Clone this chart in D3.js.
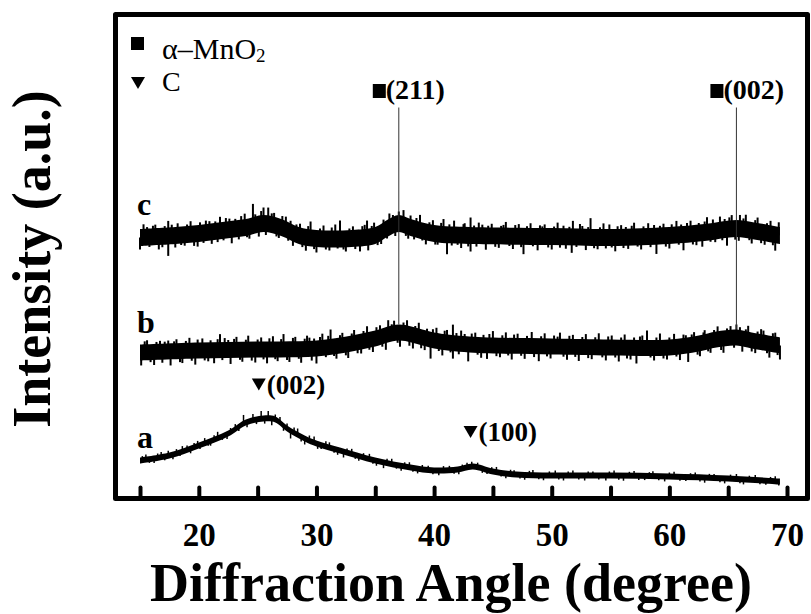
<!DOCTYPE html>
<html>
<head>
<meta charset="utf-8">
<script src="https://cdn.jsdelivr.net/npm/d3@7"></script>
<style>
  body { margin: 0; background: #fff; }
  svg { display: block; }
  text { font-family: "Liberation Serif", "Times New Roman", serif; fill: #000; }
</style>
</head>
<body>
<svg id="chart"></svg>
<script>
// XRD patterns. intensity is arbitrary units (a.u.)
let aAngle = [15, 17.5, 20, 22.5, 24, 25.5, 26.5, 27.5, 29, 30, 32, 35, 38, 40, 42, 43.3, 45, 47, 50, 55, 60, 65, 69.4];
let aValue = [38, 43, 53, 65, 76, 80, 79, 70, 60, 55, 48, 38, 31, 28, 29, 32, 27, 24, 23, 23, 22, 20, 17];

let bAngle = [15, 20, 25, 30, 33, 35, 37, 39, 40, 43, 50, 55, 60, 62.5, 64, 65.7, 67, 69.4];
let bValue = [146, 148, 149, 150, 155, 160, 166, 161, 158, 154, 152, 151, 151, 155, 159, 161, 158, 153];

let cAngle = [15, 18, 20, 22, 24, 25.5, 27, 28.5, 30, 33, 35, 36, 37, 38, 40, 43, 50, 55, 60, 63, 65.7, 67, 69.4];
let cValue = [261, 263, 265, 268, 271, 275, 271, 263, 260, 260, 263, 270, 275, 271, 265, 263, 262, 261, 263, 266, 270, 268, 263];

// half width of the dense noise core of each pattern (a.u.)
let noiseAmp = {a: 3, b: 8, c: 8.5};

// noise spikes sticking out of the core: [angle, offset from the band centre]
let aSpikes = [[15.2, 4], [15.5, 5], [15.8, -4], [16.2, -5], [16.5, 4], [16.8, 5], [17.1, -4], [17.4, 5], [17.8, -5],
  [18.1, 4], [18.4, -4], [18.6, 5], [19.0, 4], [19.3, -5], [19.6, 4], [19.9, 5], [20.1, -4], [20.5, 5], [20.8, -4],
  [21.0, -5], [21.3, 4], [21.6, 6], [22.0, -4], [22.4, -5], [22.7, 4], [23.1, 5], [23.4, -4], [23.8, 9], [24.1, -5],
  [24.6, 7], [24.9, -4], [25.3, 8], [25.6, -5], [25.9, 8], [26.2, -6], [26.5, 5], [26.9, 6], [27.2, -5], [27.5, 5],
  [27.8, -8], [28.1, 5], [28.4, 6], [28.7, -5], [29.0, -6], [29.4, 5], [29.8, 6], [30.1, -5], [30.4, -4], [30.8, 5],
  [31.1, 5], [31.5, -4], [31.8, -5], [32.3, -6], [32.6, 4], [33.0, 5], [33.3, -4], [33.6, -5], [34.0, 4], [34.5, 5],
  [34.8, -4], [35.1, -5], [35.7, -6], [36.0, 4], [36.4, 5], [36.8, -4], [37.2, -5], [37.5, 4], [37.9, 5], [38.2, -4],
  [38.6, -5], [39.0, 4], [39.5, 4], [39.9, -4], [40.4, -5], [40.8, 4], [41.3, 4], [41.7, -4], [42.1, -5], [42.4, 4],
  [42.8, 5], [43.2, 5], [43.7, 5], [44.1, -4], [44.5, -4], [44.9, 4], [45.3, 5], [45.7, -4], [46.1, -5], [46.5, 4],
  [46.8, 4], [47.3, -4], [47.7, -5], [48.1, 4], [48.4, 5], [48.9, -4], [49.3, -5], [49.8, 4], [50.3, 5], [50.6, -4],
  [51.0, -5], [51.4, 4], [51.8, 5], [52.3, -4], [52.8, -5], [53.1, 4], [53.5, 4], [54.0, -4], [54.6, -5], [54.9, 4],
  [55.3, 5], [55.7, -4], [56.1, -5], [56.6, 4], [57.0, 5], [57.4, -4], [57.9, -4], [58.3, 4], [58.6, 5], [59.1, -4],
  [59.6, -5], [60.0, 4], [60.4, 5], [60.9, -4], [61.4, -4], [61.8, 4], [62.2, 5], [62.6, -4], [63.0, -5], [63.4, 4],
  [63.8, 4], [64.3, -4], [64.7, -5], [65.2, 4], [65.7, 5], [66.0, -4], [66.3, -5], [66.8, 4], [67.3, 5], [67.7, -4],
  [68.2, -4], [68.6, 4], [69.0, 5], [69.3, -4]];

let bSpikes = [[15.1, -13], [15.4, 11], [15.6, 12], [15.9, -10], [16.2, -13], [16.4, 10], [16.7, 11], [16.9, -11],
  [17.1, 10], [17.4, 11], [17.6, -14], [17.9, 10], [18.1, 12], [18.4, -11], [18.6, -12], [18.9, 10], [19.2, 13],
  [19.4, -10], [19.7, -14], [19.9, 11], [20.3, 12], [20.5, -10], [20.8, -11], [21.0, 10], [21.3, -13], [21.6, 11],
  [21.8, 16], [22.0, -10], [22.2, 12], [22.5, 10], [22.7, -14], [23.0, 11], [23.2, 13], [23.5, -10], [23.7, -12],
  [24.0, 10], [24.2, 14], [24.5, -11], [24.8, -13], [25.0, 10], [25.3, 12], [25.5, -10], [25.8, -14], [26.0, 11],
  [26.3, 13], [26.5, -10], [26.7, -12], [27.0, 10], [27.2, 15], [27.5, -11], [27.7, -13], [28.0, 11], [28.2, 12],
  [28.5, -10], [28.7, -14], [29.0, 10], [29.2, 13], [29.4, 11], [29.6, -12], [29.8, 10], [30.0, -15], [30.3, 11],
  [30.5, 14], [30.8, -10], [31.0, 11], [31.2, 17], [31.5, -10], [31.7, -13], [32.0, 10], [32.2, 12], [32.5, -11],
  [32.7, -14], [33.0, 10], [33.2, 13], [33.5, -11], [33.8, -12], [34.0, 10], [34.3, 14], [34.5, -10], [34.8, -13],
  [35.1, 11], [35.4, 12], [35.6, -10], [35.9, -14], [36.1, 15], [36.4, 10], [36.6, 13], [36.9, -10], [37.1, -14],
  [37.4, 11], [37.7, 14], [37.9, -11], [38.2, -13], [38.4, 10], [38.7, 14], [38.9, -11], [39.2, -12], [39.4, 10],
  [39.7, -19], [39.9, 11], [40.2, 13], [40.4, -10], [40.7, -14], [40.9, 11], [41.1, 12], [41.4, -10], [41.6, -16],
  [41.6, 18], [41.9, 10], [42.1, -11], [42.3, 13], [42.6, 10], [42.9, -17], [43.2, 11], [43.5, 12], [43.7, -10],
  [44.0, -13], [44.2, 10], [44.5, -14], [44.7, 11], [45.0, 14], [45.3, -11], [45.6, -12], [45.8, 10], [46.1, 13],
  [46.3, -10], [46.6, -14], [46.8, 11], [47.1, 12], [47.4, -10], [47.7, -13], [47.9, 10], [48.3, 14], [48.5, -11],
  [48.9, -15], [49.1, 10], [49.4, 13], [49.6, -10], [49.9, -12], [50.2, 11], [50.5, 10], [50.7, 14], [51.0, -10],
  [51.3, -13], [51.5, 11], [51.8, 12], [52.0, -10], [52.3, -14], [52.6, 10], [52.9, 13], [53.1, -11], [53.4, -12],
  [53.7, 10], [54.0, 14], [54.3, -10], [54.6, -13], [54.8, 11], [55.1, 12], [55.4, -10], [55.7, -14], [55.9, 10],
  [56.2, 13], [56.4, -11], [56.7, -12], [57.0, 10], [57.2, -16], [57.5, 11], [57.7, 12], [58.1, 17], [58.4, -10],
  [58.7, -13], [58.9, 10], [59.2, 14], [59.5, -11], [59.8, -12], [60.0, 10], [60.4, 13], [60.6, -10], [60.9, -14],
  [61.2, 11], [61.4, 10], [61.6, -17], [61.9, 10], [62.1, 12], [62.4, -11], [62.6, -13], [62.9, 10], [63.0, 12],
  [63.3, -10], [63.5, -12], [63.8, 10], [64.1, 13], [64.4, -11], [64.6, -14], [64.9, 10], [65.2, 12], [65.5, -10],
  [65.7, 13], [66.0, 11], [66.2, -13], [66.5, 10], [66.7, 14], [67.0, -11], [67.3, -12], [67.5, 10], [67.8, 13],
  [68.0, 12], [68.3, -10], [68.5, -14], [68.8, 11], [69.0, 12], [69.2, -10], [69.4, -14]];

let cSpikes = [[15.0, -12], [15.3, 13], [15.6, 10], [15.8, -10], [16.1, 11], [16.3, 12], [16.6, -13], [16.9, -11],
  [17.1, 10], [17.4, 15], [17.4, -20], [17.7, 11], [18.0, -12], [18.2, 12], [18.5, -10], [18.8, -11], [19.0, 10],
  [19.3, 13], [19.6, -12], [19.9, -13], [20.1, 11], [20.4, -10], [20.6, 12], [20.9, 11], [21.1, -12], [21.4, 10],
  [21.6, -11], [21.8, 14], [22.1, -10], [22.3, 12], [22.6, 11], [22.8, -14], [23.1, 10], [23.4, -11], [23.6, 12],
  [23.9, 14], [24.1, -10], [24.3, -12], [24.6, 22], [24.8, 11], [25.1, -12], [25.3, 13], [25.5, 16], [25.7, -11],
  [25.9, 17], [26.2, 12], [26.4, 13], [26.6, -10], [26.8, -11], [27.1, 12], [27.4, 13], [27.6, -10], [27.8, 11],
  [28.0, -13], [28.3, 10], [28.6, 12], [28.8, -11], [29.1, -14], [29.3, 11], [29.5, 16], [29.8, -11], [30.0, -14],
  [30.3, 10], [30.6, 13], [30.8, -11], [31.1, -12], [31.3, 11], [31.6, 14], [31.8, -10], [32.0, 18], [32.3, -11],
  [32.5, -13], [32.8, 10], [33.1, 12], [33.3, -11], [33.7, -14], [33.9, 11], [34.1, 12], [34.3, 16], [34.4, -14],
  [34.7, 10], [34.9, 13], [35.2, -11], [35.5, -12], [35.7, 11], [36.0, -10], [36.2, 14], [36.5, 11], [36.7, -11],
  [37.0, 12], [37.4, 15], [37.6, -10], [37.8, -12], [38.0, 12], [38.3, -11], [38.5, 11], [38.8, 15], [39.0, -10],
  [39.3, -13], [39.6, 10], [39.9, 13], [40.1, -11], [40.3, -11], [40.6, 11], [40.8, 15], [41.1, -20], [41.3, 10],
  [41.5, -11], [41.7, 14], [42.0, -10], [42.3, -13], [42.5, 11], [42.6, 12], [42.9, -11], [43.1, 18], [43.1, -16],
  [43.4, 10], [43.6, -11], [43.8, 13], [44.1, 11], [44.4, -14], [44.6, 10], [44.9, 12], [45.2, -11], [45.5, -12],
  [45.7, 10], [45.9, 11], [46.1, 14], [46.4, -10], [46.7, -13], [46.9, 11], [47.2, 12], [47.4, -11], [47.6, -18],
  [47.9, 10], [48.2, 13], [48.4, -10], [48.8, -14], [49.0, 11], [49.2, 10], [49.4, 12], [49.7, -11], [50.0, -13],
  [50.2, 10], [50.5, 14], [50.7, -11], [51.0, 11], [51.2, -12], [51.5, 10], [51.7, -16], [51.8, 16], [52.1, -10],
  [52.4, 13], [52.6, 11], [52.9, -13], [53.1, 10], [53.3, 19], [53.6, -11], [53.9, -12], [54.1, 10], [54.4, 14],
  [54.6, -11], [54.9, 13], [55.1, -10], [55.4, -14], [55.6, 11], [55.9, 12], [56.1, -11], [56.3, 10], [56.5, -12],
  [56.8, 11], [57.0, 14], [57.3, -10], [57.6, -13], [57.8, 10], [58.2, 13], [58.4, -11], [58.7, 11], [58.9, -18],
  [59.2, 10], [59.5, 12], [59.7, -11], [60.0, -13], [60.2, 11], [60.6, 14], [60.8, -10], [61.0, 10], [61.2, -16],
  [61.5, 11], [61.8, 13], [62.0, -11], [62.3, -12], [62.5, 10], [62.8, -14], [63.0, 11], [63.2, 15], [63.5, -10],
  [63.7, 12], [63.9, -11], [64.3, 14], [64.5, -10], [64.7, 11], [64.9, -16], [65.1, 12], [65.3, 14], [65.6, -11],
  [65.9, -12], [66.0, 14], [66.3, 11], [66.5, 15], [66.8, -10], [67.0, -13], [67.3, 11], [67.5, 14], [67.8, -11],
  [68.1, -12], [68.3, 10], [68.6, 13], [68.8, -11], [69.0, -16], [69.3, 13]];

// reflections
let mnoPeaks = [37.0, 65.7];
let mnoLabels = ["(211)", "(002)"];
let carbonPeaks = [25.1, 43.1];
let carbonLabels = ["(002)", "(100)"];
let markerTop = 391;

let traceNames = ["a", "b", "c"];
let xTicks = [15, 20, 25, 30, 35, 40, 45, 50, 55, 60, 65, 70];

let width = 811;
let height = 614;
let frame = {left: 115.5, top: 14.5, right: 807.5, bottom: 498.5};

let svg = d3.select("#chart").attr("width", width).attr("height", height);

let xScale = d3.scaleLinear().domain([15, 70]).range([140, 787]);
let yScale = d3.scaleLinear().domain([0, 484]).range([frame.bottom, frame.bottom - 484]);

let traces = [
  {name: "a", angle: aAngle, value: aValue, amp: noiseAmp.a, spikes: aSpikes},
  {name: "b", angle: bAngle, value: bValue, amp: noiseAmp.b, spikes: bSpikes},
  {name: "c", angle: cAngle, value: cValue, amp: noiseAmp.c, spikes: cSpikes}
];

// centre of a band at some angle, between the two read points around it
let centreAt = (t, ang) => {
  let i = d3.bisectLeft(t.angle, ang);
  if (i <= 0) return t.value[0];
  if (i >= t.angle.length) return t.value[t.value.length - 1];
  let k = (ang - t.angle[i - 1]) / (t.angle[i] - t.angle[i - 1]);
  return t.value[i - 1] + k * (t.value[i] - t.value[i - 1]);
};

let band = d3.area()
  .x(d => xScale(d[0]))
  .curve(d3.curveCatmullRom);

traces.forEach(t => {
  let pts = t.angle.map((a, i) => [a, t.value[i]]);
  svg.append("path")
    .datum(pts)
    .attr("d", band.y0(d => yScale(d[1] - t.amp)).y1(d => yScale(d[1] + t.amp)))
    .attr("fill", "#000");

  svg.append("g")
    .selectAll("line")
    .data(t.spikes)
    .enter()
    .append("line")
    .attr("x1", d => xScale(d[0]))
    .attr("x2", d => xScale(d[0]))
    .attr("y1", d => yScale(centreAt(t, d[0])))
    .attr("y2", d => yScale(centreAt(t, d[0]) + d[1]))
    .attr("stroke", "#000")
    .attr("stroke-width", t.name === "a" ? 1.5 : 2);
});

// trace letters
let letterY = {a: 448, b: 333, c: 215};
traceNames.forEach(n => {
  svg.append("text")
    .attr("x", 137)
    .attr("y", letterY[n])
    .style("font-size", "32px")
    .style("font-weight", "bold")
    .text(n);
});

// alpha-MnO2 reflections: thin line down to pattern b
let bTrace = traces[1];
mnoPeaks.forEach((p, i) => {
  svg.append("line")
    .attr("x1", xScale(p)).attr("x2", xScale(p))
    .attr("y1", yScale(markerTop))
    .attr("y2", yScale(centreAt(bTrace, p) + bTrace.amp))
    .attr("stroke", "#333")
    .attr("stroke-width", 1);

  svg.append("rect")
    .attr("x", xScale(p) - 26)
    .attr("y", 84)
    .attr("width", 13)
    .attr("height", 14)
    .attr("fill", "#000");

  svg.append("text")
    .attr("x", xScale(p) - 13)
    .attr("y", 99)
    .style("font-size", "28px")
    .style("font-weight", "bold")
    .text(mnoLabels[i]);
});

// carbon reflections on pattern a
let aTrace = traces[0];
let tri = (cx, cy, w, h) => `M${cx - w / 2},${cy}L${cx + w / 2},${cy}L${cx},${cy + h}Z`;
carbonPeaks.forEach((p, i) => {
  let base = yScale(centreAt(aTrace, p)) - 26;
  svg.append("path")
    .attr("d", tri(xScale(p), base - 15, 14, 12))
    .attr("fill", "#000");
  svg.append("text")
    .attr("x", xScale(p) + 8)
    .attr("y", base)
    .style("font-size", "27px")
    .style("font-weight", "bold")
    .text(carbonLabels[i]);
});

// legend
svg.append("rect").attr("x", 131).attr("y", 37).attr("width", 13).attr("height", 13).attr("fill", "#000");
let lg = svg.append("text").attr("x", 162).attr("y", 59).style("font-size", "30px");
lg.append("tspan").text("\u03b1\u2013MnO");
lg.append("tspan").attr("dy", 3).style("font-size", "19px").text("2");

svg.append("path").attr("d", tri(138, 77, 14, 12)).attr("fill", "#000");
svg.append("text").attr("x", 162).attr("y", 91).style("font-size", "28px").text("C");

// frame
svg.append("rect")
  .attr("x", frame.left)
  .attr("y", frame.top)
  .attr("width", frame.right - frame.left)
  .attr("height", frame.bottom - frame.top)
  .attr("fill", "none")
  .attr("stroke", "#000")
  .attr("stroke-width", 5)
  .attr("stroke-linejoin", "round");

// x axis
let xAxis = d3.axisBottom(xScale)
  .tickValues(xTicks)
  .tickSize(-11)
  .tickPadding(24)
  .tickFormat(d => d % 10 === 0 ? d : "");

let gx = svg.append("g")
  .attr("transform", "translate(0," + frame.bottom + ")")
  .call(xAxis);
gx.select(".domain").remove();
gx.selectAll(".tick line").attr("stroke", "#000").attr("stroke-width", 4).attr("stroke-linecap", "round");
gx.selectAll(".tick text")
  .style("font-family", "'Liberation Serif', 'Times New Roman', serif")
  .style("font-size", "33px")
  .style("font-weight", "bold")
  .attr("fill", "#000");

svg.append("text")
  .attr("x", 451)
  .attr("y", 601)
  .style("text-anchor", "middle")
  .style("font-size", "54px")
  .style("font-weight", "bold")
  .text("Diffraction Angle (degree)");

svg.append("text")
  .attr("transform", "translate(50,259)rotate(-90)")
  .style("text-anchor", "middle")
  .style("font-size", "54px")
  .style("font-weight", "bold")
  .text("Intensity (a.u.)");
</script>
</body>
</html>
